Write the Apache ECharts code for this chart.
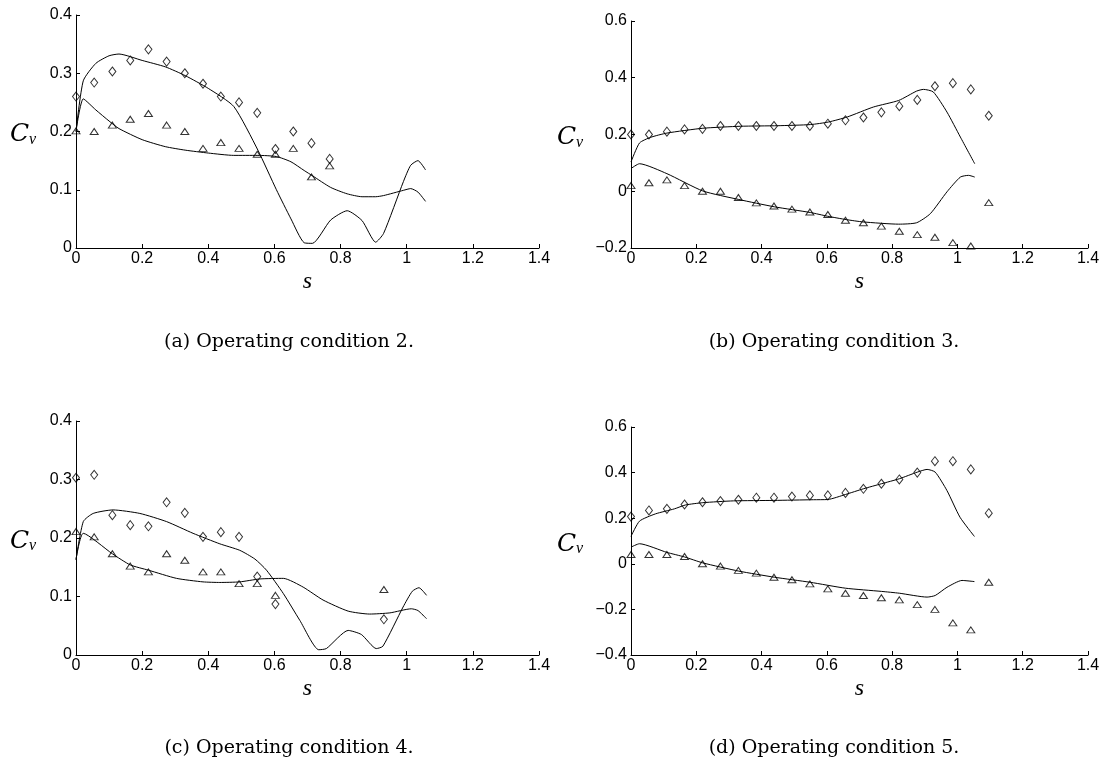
<!DOCTYPE html>
<html>
<head>
<meta charset="utf-8">
<script src="https://cdn.jsdelivr.net/npm/echarts@6/dist/echarts.min.js"></script>
<style>
  html, body { margin: 0; padding: 0; background: #fff; }
  #chart { width: 1105px; height: 764px; }
</style>
</head>
<body>
<div id="chart"></div>
<script>
// s positions of the measured points (same stations in every case)
var sMarks = [0, 0.055, 0.11, 0.164, 0.219, 0.274, 0.329, 0.384, 0.438, 0.493, 0.548,
              0.603, 0.657, 0.712, 0.767, 0.822, 0.877, 0.931, 0.986, 1.041, 1.096];

// (a) operating condition 2
var diamA = [0.26, 0.284, 0.303, 0.322, 0.341, 0.32, 0.30, 0.282, 0.26, 0.25, 0.232, 0.17, 0.20, 0.18, 0.153];
var triA  = [0.201, 0.20, 0.211, 0.221, 0.231, 0.211, 0.20, 0.171, 0.181, 0.171, 0.161, 0.161, 0.171, 0.122, 0.141];
var sUpA  = [0, 0.022, 0.06, 0.1, 0.13, 0.2, 0.27, 0.33, 0.4, 0.477, 0.55, 0.606, 0.65, 0.69, 0.715, 0.77, 0.82, 0.865, 0.906, 0.93, 0.99, 1.012, 1.034, 1.057];
var upA   = [0.20, 0.287, 0.317, 0.330, 0.333, 0.322, 0.311, 0.296, 0.274, 0.243, 0.168, 0.10, 0.05, 0.009, 0.008, 0.048, 0.064, 0.047, 0.01, 0.025, 0.114, 0.142, 0.15, 0.134];
var sLoA  = [0, 0.022, 0.06, 0.1, 0.13, 0.2, 0.27, 0.33, 0.4, 0.477, 0.55, 0.606, 0.65, 0.69, 0.715, 0.77, 0.82, 0.865, 0.906, 0.93, 0.99, 1.012, 1.034, 1.057];
var loA   = [0.20, 0.256, 0.237, 0.218, 0.205, 0.186, 0.174, 0.168, 0.163, 0.159, 0.159, 0.157, 0.148, 0.133, 0.124, 0.104, 0.093, 0.088, 0.088, 0.090, 0.099, 0.102, 0.096, 0.08];

// (b) operating condition 3
var diamB = [0.20, 0.20, 0.21, 0.218, 0.22, 0.23, 0.23, 0.23, 0.23, 0.23, 0.23, 0.238, 0.25, 0.26, 0.278, 0.30, 0.322, 0.37, 0.381, 0.359, 0.266];
var triB  = [0.02, 0.03, 0.04, 0.02, 0.0, 0.0, -0.022, -0.041, -0.052, -0.063, -0.073, -0.082, -0.102, -0.111, -0.123, -0.141, -0.153, -0.162, -0.181, -0.193, -0.04];
var sUpB  = [0, 0.026, 0.06, 0.11, 0.22, 0.335, 0.45, 0.55, 0.605, 0.663, 0.743, 0.82, 0.875, 0.896, 0.926, 0.968, 1.009, 1.053];
var upB   = [0.103, 0.17, 0.19, 0.205, 0.222, 0.229, 0.231, 0.235, 0.244, 0.262, 0.297, 0.32, 0.353, 0.359, 0.35, 0.279, 0.191, 0.097];
var sLoB  = [0, 0.026, 0.11, 0.22, 0.33, 0.44, 0.55, 0.602, 0.66, 0.71, 0.82, 0.875, 0.917, 0.968, 1.009, 1.034, 1.053];
var loB   = [0.08, 0.097, 0.062, 0.001, -0.029, -0.055, -0.075, -0.088, -0.1, -0.108, -0.116, -0.111, -0.079, -0.002, 0.05, 0.056, 0.05];

// (c) operating condition 4
var diamC = [0.303, 0.308, 0.239, 0.222, 0.22, 0.261, 0.243, 0.202, 0.21, 0.202, 0.134, 0.087, null, null, null, null, null, 0.061];
var triC  = [0.211, 0.202, 0.173, 0.152, 0.142, 0.173, 0.162, 0.142, 0.142, 0.122, 0.122, 0.102, null, null, null, null, null, 0.112];
var sUpC  = [0, 0.022, 0.052, 0.112, 0.193, 0.274, 0.354, 0.435, 0.495, 0.541, 0.576, 0.627, 0.677, 0.734, 0.757, 0.823, 0.863, 0.908, 0.928, 0.989, 1.017, 1.037, 1.06];
var upC   = [0.163, 0.228, 0.242, 0.248, 0.242, 0.228, 0.208, 0.19, 0.179, 0.164, 0.145, 0.105, 0.059, 0.009, 0.011, 0.042, 0.035, 0.011, 0.015, 0.082, 0.109, 0.115, 0.102];
var sLoC  = [0, 0.022, 0.11, 0.164, 0.219, 0.304, 0.384, 0.435, 0.495, 0.556, 0.627, 0.687, 0.747, 0.823, 0.888, 0.949, 1.014, 1.034, 1.06];
var loC   = [0.163, 0.208, 0.173, 0.154, 0.145, 0.131, 0.125, 0.124, 0.125, 0.13, 0.131, 0.116, 0.094, 0.075, 0.07, 0.072, 0.079, 0.076, 0.062];

// (d) operating condition 5
var diamD = [0.207, 0.234, 0.241, 0.26, 0.27, 0.275, 0.281, 0.29, 0.29, 0.295, 0.30, 0.30, 0.311, 0.329, 0.351, 0.37, 0.40, 0.45, 0.45, 0.414, 0.222];
var triD  = [0.041, 0.041, 0.041, 0.032, 0.0, -0.01, -0.029, -0.041, -0.059, -0.07, -0.088, -0.11, -0.129, -0.139, -0.149, -0.158, -0.179, -0.2, -0.259, -0.29, -0.081];
var sUpD  = [0, 0.026, 0.075, 0.133, 0.167, 0.22, 0.314, 0.437, 0.559, 0.603, 0.657, 0.712, 0.767, 0.822, 0.877, 0.907, 0.932, 0.968, 1.008, 1.052];
var upD   = [0.12, 0.187, 0.219, 0.241, 0.258, 0.268, 0.276, 0.278, 0.281, 0.282, 0.304, 0.329, 0.351, 0.373, 0.402, 0.414, 0.402, 0.321, 0.204, 0.12];
var sLoD  = [0, 0.026, 0.11, 0.164, 0.22, 0.33, 0.44, 0.549, 0.657, 0.767, 0.822, 0.907, 0.932, 0.968, 1.014, 1.052];
var loD   = [0.073, 0.088, 0.05, 0.03, 0.004, -0.032, -0.059, -0.081, -0.107, -0.121, -0.129, -0.146, -0.139, -0.103, -0.073, -0.078];

var captions = ['(a) Operating condition 2.', '(b) Operating condition 3.',
                '(c) Operating condition 4.', '(d) Operating condition 5.'];
var yRanges = [[0, 0.4, 0.1], [-0.2, 0.6, 0.2], [0, 0.4, 0.1], [-0.4, 0.6, 0.2]];

var panels = [
  { marks: [diamA, triA], curves: [[sUpA, upA], [sLoA, loA]] },
  { marks: [diamB, triB], curves: [[sUpB, upB], [sLoB, loB]] },
  { marks: [diamC, triC], curves: [[sUpC, upC], [sLoC, loC]] },
  { marks: [diamD, triD], curves: [[sUpD, upD], [sLoD, loD]] }
];

function pairs(xs, ys) {
  var out = [];
  for (var i = 0; i < ys.length; i++) {
    if (ys[i] !== null) out.push([xs[i], ys[i]]);
  }
  return out;
}

var chart = echarts.init(document.getElementById('chart'));

var grids = [
  { left: 76,  top: 15,  width: 463, height: 233 },
  { left: 631, top: 21,  width: 457, height: 227 },
  { left: 76,  top: 421, width: 463, height: 234 },
  { left: 631, top: 427, width: 457, height: 228 }
];

function axisBase() {
  return {
    axisLine: { onZero: false, lineStyle: { color: '#000', width: 1 } },
    axisTick: { inside: true, length: 4, lineStyle: { color: '#000' } },
    splitLine: { show: false }
  };
}

var xAxes = [], yAxes = [], series = [], graphics = [];

grids.forEach(function (g, k) {
  xAxes.push(Object.assign(axisBase(), {
    type: 'value', gridIndex: k, min: 0, max: 1.4, interval: 0.2,
    name: 's', nameLocation: 'middle', nameGap: 22,
    nameTextStyle: { fontFamily: 'Liberation Serif', fontStyle: 'italic', fontSize: 24, color: '#000' },
    axisLabel: { color: '#000', fontSize: 16, fontFamily: 'Liberation Sans', margin: 3 }
  }));

  var r = yRanges[k];
  yAxes.push(Object.assign(axisBase(), {
    type: 'value', gridIndex: k, min: r[0], max: r[1], interval: r[2],
    axisLabel: {
      color: '#000', fontSize: 16, fontFamily: 'Liberation Sans', margin: 4,
      formatter: function (v) { return String(+v.toFixed(2)).replace('-', '\u2212'); }
    }
  }));

  var p = panels[k];
  p.curves.forEach(function (c) {
    series.push({
      type: 'line', xAxisIndex: k, yAxisIndex: k,
      data: pairs(c[0], c[1]),
      showSymbol: false, smooth: 0.2,
      lineStyle: { color: '#000', width: 1 },
      silent: true
    });
  });
  series.push({
    type: 'scatter', xAxisIndex: k, yAxisIndex: k,
    data: pairs(sMarks, p.marks[0]),
    symbol: 'diamond', symbolSize: [7, 9],
    itemStyle: { color: 'rgba(0,0,0,0)', borderColor: '#000', borderWidth: 1 }
  });
  series.push({
    type: 'scatter', xAxisIndex: k, yAxisIndex: k,
    data: pairs(sMarks, p.marks[1]),
    symbol: 'triangle', symbolSize: [8, 6],
    itemStyle: { color: 'rgba(0,0,0,0)', borderColor: '#000', borderWidth: 1 }
  });

  // C_v label, centred on the y axis
  var cx = g.left < 300 ? 10 : 557;
  var cy = g.top + g.height / 2 + 3;
  graphics.push({
    type: 'text', x: cx, y: cy,
    style: { text: 'C', font: 'italic 25px "DejaVu Serif"', fill: '#000', align: 'left', verticalAlign: 'middle' }
  });
  graphics.push({
    type: 'text', x: cx + 19, y: cy + 5,
    style: { text: 'v', font: 'italic 16px "Liberation Serif"', fill: '#000', align: 'left', verticalAlign: 'middle' }
  });

  // caption under each panel
  graphics.push({
    type: 'text', x: g.left < 300 ? 289 : 834, y: k < 2 ? 342 : 748,
    style: { text: captions[k], font: '19px "DejaVu Serif"', fill: '#000', align: 'center', verticalAlign: 'middle' }
  });
});

chart.setOption({
  animation: false,
  backgroundColor: '#fff',
  grid: grids,
  xAxis: xAxes,
  yAxis: yAxes,
  series: series,
  graphic: graphics
});
</script>
</body>
</html>
